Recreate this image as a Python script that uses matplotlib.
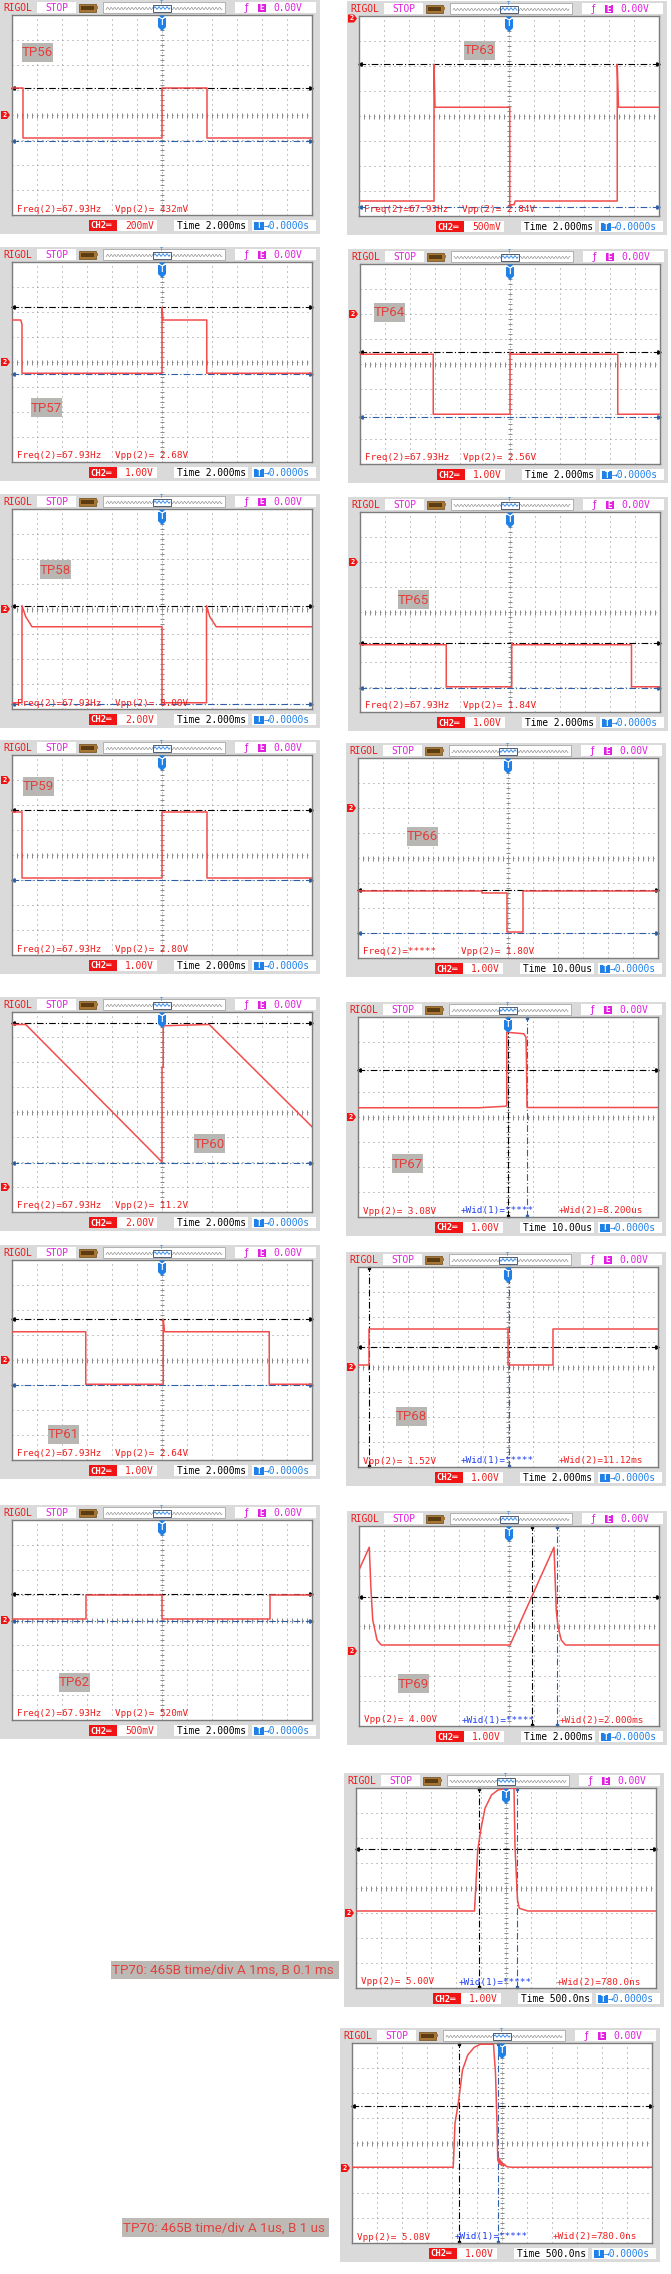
import numpy as np
import matplotlib.pyplot as plt
from matplotlib.patches import Rectangle, Polygon

# ---------------- data: traces in screen divisions (x -6..6, y -4..4) ----------------
tp56_t = [-6, -5.55, -5.55, 0, 0, 1.81, 1.81, 6]
tp56_v = [1.07, 1.07, -0.91, -0.91, 1.07, 1.07, -0.91, -0.91]

tp57_t = [-6, -5.65, -5.6, -5.6, 0, 0, 0.04, 1.79, 1.79, 6]
tp57_v = [1.68, 1.68, 1.5, -0.45, -0.45, 2.19, 1.68, 1.68, -0.45, -0.45]

tp58_t = [-6, -5.6, -5.6, -5.45, -5.2, 0, 0, 1.78, 1.78, 1.91, 2.17, 6]
tp58_v = [-3.75, -3.75, 0.13, -0.31, -0.71, -0.71, -3.75, -3.75, 0.13, -0.31, -0.71, -0.71]

tp59_t = [-6, -5.6, -5.6, 0, 0, 1.78, 1.78, 6]
tp59_v = [1.73, 1.73, -0.93, -0.93, 1.73, 1.73, -0.93, -0.93]

tp60_t = [-6, -5.45, 0, 0, 0.05, 0.05, 1.89, 6]
tp60_v = [3.5, 3.5, -2.0, 1.8, 1.8, 3.45, 3.5, -0.59]

tp61_t = [-6, -3.05, -3.05, 0.05, 0.05, 0.1, 4.29, 4.29, 6]
tp61_v = [1.13, 1.13, -0.97, -0.97, 1.63, 1.13, 1.13, -0.97, -0.97]

tp62_t = [-6, -3.03, -3.03, 0, 0, 4.32, 4.32, 6]
tp62_v = [0.04, 0.04, 0.99, 0.99, 0.04, 0.04, 0.99, 0.99]

tp63_t = [-6, -3.0, -3.0, -2.96, 0.03, 0.03, 0.2, 0.25, 4.33, 4.33, 4.38, 6]
tp63_v = [-3.4, -3.4, 2.07, 0.35, 0.35, -3.55, -3.55, -3.4, -3.4, 2.07, 0.35, 0.35]

tp64_t = [-6, -3.07, -3.07, 0, 0, 0.04, 4.31, 4.31, 6]
tp64_v = [0.39, 0.39, -2.01, -2.01, 0.47, 0.39, 0.39, -2.01, -2.01]

tp65_t = [-6, -2.55, -2.55, 0.07, 0.07, 0.1, 4.86, 4.86, 6]
tp65_v = [-1.31, -1.31, -2.99, -2.99, -1.23, -1.31, -1.31, -2.99, -2.99]

tp66_t = [-6, -1.04, -1.04, -0.06, -0.06, 0.59, 0.59, 6]
tp66_v = [-1.32, -1.32, -1.38, -1.38, -2.97, -2.97, -1.32, -1.32]

tp67_t = [-6, -1.16, -0.1, -0.05, -0.05, 0.63, 0.72, 0.74, 0.76, 6]
tp67_v = [0.37, 0.37, 0.43, 0.45, 3.39, 3.33, 3.19, 2.17, 0.38, 0.38]

tp68_t = [-6, -5.55, -5.55, 0, 0, 1.81, 1.81, 6]
tp68_v = [0.09, 0.09, 1.51, 1.51, 0.09, 0.09, 1.51, 1.51]

tp69_t = [-6, -5.59, -5.52, -5.45, -5.28, -5.11, 0.04, 1.8, 1.89, 1.96, 2.09, 2.26, 6]
tp69_v = [2.24, 3.15, 1.44, 0.24, -0.56, -0.76, -0.76, 3.15, 0.64, -0.03, -0.56, -0.76, -0.76]

tp70a_t = [-6, -1.26, -1.18, -1.13, -1.01, -0.84, -0.58, -0.32, 0.02, 0.32, 0.36, 0.46, 0.53, 0.87, 6]
tp70a_v = [-0.92, -0.92, 0.59, 1.52, 2.32, 3.19, 3.72, 3.92, 3.99, 3.99, 1.65, -0.48, -0.81, -0.92, -0.92]

tp70b_t = [-6, -1.95, -1.88, -1.75, -1.68, -1.58, -1.37, -1.11, -0.86, -0.34, -0.26, -0.2, -0.17,
           -0.12, -0.1, -0.08, -0.05, -0.02, 0.02, 0.06, 0.1, 0.2, 0.4, 6]
tp70b_v = [-0.97, -0.97, 0.79, 1.59, 2.12, 2.92, 3.52, 3.83, 3.95, 3.95, 2.79, 0.79, -0.68,
           -0.8, -0.62, -0.85, -0.72, -0.9, -0.8, -0.93, -0.86, -0.95, -0.97, -0.97]

names = ['TP56', 'TP57', 'TP58', 'TP59', 'TP60', 'TP61', 'TP62',
         'TP63', 'TP64', 'TP65', 'TP66', 'TP67', 'TP68', 'TP69', 'TP70a', 'TP70b']
traces = [(tp56_t, tp56_v), (tp57_t, tp57_v), (tp58_t, tp58_v), (tp59_t, tp59_v),
          (tp60_t, tp60_v), (tp61_t, tp61_v), (tp62_t, tp62_v), (tp63_t, tp63_v),
          (tp64_t, tp64_v), (tp65_t, tp65_v), (tp66_t, tp66_v), (tp67_t, tp67_v),
          (tp68_t, tp68_v), (tp69_t, tp69_v), (tp70a_t, tp70a_v), (tp70b_t, tp70b_v)]
# cursor levels (black horizontal, blue horizontal) and (black vertical, blue vertical)
hcursors = [(1.09, -1.04), (2.19, -0.49), (0.13, -3.8), (1.79, -1.01), (3.55, -2.04),
            (1.63, -1.0), (1.03, -0.03), (2.07, -3.63), (0.47, -2.11), (-1.23, -3.05),
            (-1.27, -3.01), (1.87, None), (0.79, None), (1.17, None), (1.55, None), (1.49, None)]
vcursors = [None] * 11 + [(0, 0.77), (-5.55, 0.02), (0.93, 1.92), (-1.08, 0.44), (-1.73, -0.17)]
ground = [0, 0, 0, 3, -3, 0, 0, 3.9, 2, 2, 2, 0, 0, -1, -1, -1]
volts = ['200mV', '1.00V', '2.00V', '1.00V', '2.00V', '1.00V', '500mV',
         '500mV', '1.00V', '1.00V', '1.00V', '1.00V', '1.00V', '1.00V', '1.00V', '1.00V']
timebase = ['2.000ms'] * 10 + ['10.00us', '10.00us', '2.000ms', '2.000ms', '500.0ns', '500.0ns']
freq = ['67.93Hz'] * 10 + ['*****', None, None, None, None, None]
vpp = [' 432mV', ' 2.68V', ' 8.00V', ' 2.80V', ' 11.2V', ' 2.64V', ' 520mV',
       ' 2.84V', ' 2.56V', ' 1.84V', ' 1.80V', ' 3.08V', ' 1.52V', ' 4.00V', ' 5.00V', ' 5.08V']
wid2 = [None] * 11 + ['8.200us', '11.12ms', '2.000ms', '780.0ns', '780.0ns']
notes = ['TP70: 465B time/div A 1ms, B 0.1 ms', 'TP70: 465B time/div A 1us, B 1 us']

# ---------------- layout (pixels) ----------------
W, H = 671, 2274
PW, PH = 320, 234
GX, GY, GW, GH = 12, 15, 300, 200
origin = [(0, 0), (0, 247), (0, 494), (0, 740), (0, 997), (0, 1245), (0, 1505),
          (347, 1), (348, 249), (348, 497), (346, 743), (346, 1002), (346, 1252), (347, 1511),
          (344, 1773), (340, 2028)]
label_at = [(22, 43), (31, 151), (40, 66), (23, 37), (194, 137), (48, 180), (59, 168),
            (117, 40), (26, 54), (50, 93), (61, 84), (46, 152), (50, 155), (51, 163), None, None]
note_box = [(111, 1961, 228, 18), (122, 2218, 207, 19)]

RED = '#f24c4c'
TRED = '#ee1c1c'
MAG = '#e21fe2'
BLUE = '#1f80e8'
CBLUE = '#2d5fa8'
PANEL = '#dadada'
MONO = 'DejaVu Sans Mono'

fig = plt.figure(figsize=(W / 100, H / 100), dpi=100)
bg = fig.add_axes([0, 0, 1, 1])
bg.set_xlim(0, W)
bg.set_ylim(H, 0)
bg.axis('off')


def box(ax, x, y, w, h, fc, ec='none', lw=0, z=1, tr=None):
    ax.add_patch(Rectangle((x, y), w, h, fc=fc, ec=ec, lw=lw, zorder=z,
                           transform=tr if tr is not None else ax.transData, clip_on=False))


def frame(x0, y0, vdiv, tb):
    box(bg, x0, y0, PW, PH, PANEL)
    # header
    bg.text(x0 + 3, y0 + 8, 'RIGOL', color=TRED, family=MONO, fontsize=6.9, va='center')
    box(bg, x0 + 37, y0 + 2, 39, 11, 'white')
    bg.text(x0 + 45, y0 + 8, 'STOP', color=MAG, family=MONO, fontsize=6.9, va='center')
    box(bg, x0 + 79, y0 + 3.5, 17, 8, '#a87634', ec='#6b4a1c', lw=0.5)
    box(bg, x0 + 81, y0 + 5.5, 13, 4, '#5c3c12')
    box(bg, x0 + 96, y0 + 6, 2, 3, '#a87634')
    box(bg, x0 + 103, y0 + 2, 122, 11, 'white', ec='#9a9a9a', lw=0.5)
    xs = np.linspace(x0 + 106, x0 + 222, 400)
    bg.plot(xs, y0 + 8.5 + 1.1 * np.sin(2 * np.pi * xs / 3.5), color='#8a8a8a', lw=0.45)
    box(bg, x0 + 153, y0 + 4.5, 18, 7, 'white', ec='#33425a', lw=0.6, z=2)
    xw = np.linspace(x0 + 154, x0 + 170, 80)
    bg.plot(xw, y0 + 8 + 1.2 * np.sin(2 * np.pi * xw / 4), color=BLUE, lw=0.6, zorder=3)
    bg.text(x0 + 162, y0 + 2.6, 'T', color=BLUE, family=MONO, fontsize=4, ha='center', va='center', zorder=3)
    box(bg, x0 + 235, y0 + 2, 81, 11, 'white')
    bg.text(x0 + 246, y0 + 8, 'ƒ', color=MAG, family='DejaVu Sans', fontsize=7, ha='center', va='center')
    box(bg, x0 + 258, y0 + 4, 8, 8, MAG)
    bg.text(x0 + 262, y0 + 8, 'E', color='white', family=MONO, fontsize=5.5, ha='center', va='center',
            weight='bold')
    bg.text(x0 + 273, y0 + 8, '0.00V', color=MAG, family=MONO, fontsize=6.9, va='center')
    # footer
    box(bg, x0 + 89, y0 + 220, 28, 11, '#f01414')
    bg.text(x0 + 90.5, y0 + 226, 'CH2═', color='white', family=MONO, fontsize=6.4, va='center',
            weight='bold')
    box(bg, x0 + 117, y0 + 220, 40, 11, 'white')
    bg.text(x0 + 154, y0 + 226, vdiv, color=TRED, family=MONO, fontsize=6.9, va='center', ha='right')
    box(bg, x0 + 174, y0 + 220, 74, 11, 'white')
    bg.text(x0 + 177, y0 + 226, 'Time ' + tb, color='black', family=MONO, fontsize=6.9, va='center')
    box(bg, x0 + 252, y0 + 220, 64, 11, 'white')
    box(bg, x0 + 254, y0 + 221.5, 10, 8.5, BLUE)
    bg.text(x0 + 259, y0 + 226, 'T', color='white', family=MONO, fontsize=5.5, ha='center', va='center',
            weight='bold')
    bg.text(x0 + 264, y0 + 226, '→0.0000s', color=BLUE, family=MONO, fontsize=6.9, va='center')


def screen(i):
    x0, y0 = origin[i]
    ax = fig.add_axes([(x0 + GX) / W, 1 - (y0 + GY + GH) / H, GW / W, GH / H])
    ax.set_xlim(-6, 6)
    ax.set_ylim(-4, 4)
    ax.set_xticks([])
    ax.set_yticks([])
    ax.set_facecolor('white')
    for s in ax.spines.values():
        s.set_color('#7c7c7c')
        s.set_linewidth(1)
    tr = bg.transData
    for k in range(-5, 6):
        if k:
            ax.axvline(k, color='#8c8c8c', lw=0.72, ls=(0, (1, 4)))
    for k in range(-3, 4):
        if k:
            ax.axhline(k, color='#8c8c8c', lw=0.72, ls=(0, (1, 4)))
    ax.axvline(0, color='#8c8c8c', lw=0.72, ls=(0, (1, 2)))
    ticks = np.arange(-6, 6.01, 0.2)
    ax.vlines(ticks, -0.1, 0.1, color='#8c8c8c', lw=0.72)
    ax.axhline(0, color='#8c8c8c', lw=0.72, ls=(0, (1, 4)))
    ax.hlines(np.arange(-4, 4.01, 0.2), -0.08, 0.08, color='#8c8c8c', lw=0.72)

    hb, hl = hcursors[i]
    ax.axhline(hb, color='black', lw=0.8, ls=(0, (6, 2, 1, 2)))
    ax.plot([-5.97], [hb], marker='<', ms=2.5, color='black', clip_on=False)
    ax.plot([5.97], [hb], marker='>', ms=2.5, color='black', clip_on=False)
    if hl is not None:
        ax.axhline(hl, color=CBLUE, lw=0.8, ls=(0, (6, 2, 1, 2)))
        ax.plot([-5.97], [hl], marker='<', ms=2.5, color=CBLUE, clip_on=False)
        ax.plot([5.97], [hl], marker='>', ms=2.5, color=CBLUE, clip_on=False)
    if vcursors[i] is not None:
        vb, vl = vcursors[i]
        ax.axvline(vb, color='black', lw=0.8, ls=(0, (6, 2, 1, 2)))
        ax.plot([vb, vb], [3.96, -3.96], ls='none', marker='s', ms=2, color='black', clip_on=False)
        ax.axvline(vl, color=CBLUE, lw=0.8, ls=(0, (6, 2, 1, 2)))
        ax.plot([vl, vl], [3.96, -3.96], ls='none', marker='s', ms=2, color=CBLUE, clip_on=False)

    t, v = traces[i]
    ax.plot(t, v, color=RED, lw=1.1, zorder=4)

    # trigger pin
    ax.add_patch(Polygon([(x0 + 158, y0 + 18), (x0 + 166, y0 + 18), (x0 + 166, y0 + 27),
                          (x0 + 162, y0 + 31), (x0 + 158, y0 + 27)], closed=True, fc=BLUE, ec='none',
                         transform=tr, clip_on=False, zorder=6))
    ax.add_patch(Polygon([(x0 + 158.5, y0 + 15.5), (x0 + 165.5, y0 + 15.5), (x0 + 162, y0 + 18.5)],
                         closed=True, fc=BLUE, ec='none', transform=tr, clip_on=False, zorder=6))
    ax.text(x0 + 162, y0 + 22.8, 'T', color='white', family=MONO, fontsize=5.5, weight='bold',
            ha='center', va='center', transform=tr, zorder=7)

    # channel ground marker
    yc = y0 + GY + (4 - ground[i]) * GH / 8
    ax.add_patch(Polygon([(x0 + 1, yc - 4), (x0 + 7, yc - 4), (x0 + 10, yc), (x0 + 7, yc + 4), (x0 + 1, yc + 4)],
                         closed=True, fc='#f01414', ec='none', transform=tr, clip_on=False, zorder=6))
    ax.text(x0 + 4.5, yc, '2', color='white', family=MONO, fontsize=5, weight='bold',
            ha='center', va='center', transform=tr, zorder=7)

    # measurements
    ym = y0 + 209
    if freq[i] is not None:
        ax.text(x0 + 17, ym, 'Freq(2)=' + freq[i], color=TRED, family=MONO, fontsize=6.7,
                va='center', transform=tr, zorder=7)
        ax.text(x0 + 115, ym, 'Vpp(2)=' + vpp[i], color=TRED, family=MONO, fontsize=6.7,
                va='center', transform=tr, zorder=7)
    else:
        ax.text(x0 + 17, ym, 'Vpp(2)=' + vpp[i], color=TRED, family=MONO, fontsize=6.7,
                va='center', transform=tr, zorder=7)
        ax.text(x0 + 115, ym, '+Wid(1)=*****', color='#1a3cf0', family=MONO, fontsize=6.7,
                va='center', transform=tr, zorder=7)
        ax.text(x0 + 213, ym, '+Wid(2)=' + wid2[i], color=TRED, family=MONO, fontsize=6.7,
                va='center', transform=tr, zorder=7)

    # test point tag
    if label_at[i] is not None:
        lx, ly = label_at[i]
        box(ax, x0 + lx, y0 + ly, 31, 19, '#b9b7b3', z=8, tr=tr)
        ax.text(x0 + lx + 15.5, y0 + ly + 10, names[i], color='#e2403c', family='Roboto', fontsize=9.5,
                ha='center', va='center', transform=tr, zorder=9)


for i in range(len(names)):
    x0, y0 = origin[i]
    frame(x0, y0, volts[i], timebase[i])
for i in range(len(names)):
    screen(i)

for (bx, by, bw, bh), s in zip(note_box, notes):
    box(bg, bx, by, bw, bh, '#bdbab6')
    bg.text(bx + 1, by + bh / 2 + 0.5, s, color='#e0413d', family='Roboto', fontsize=9.6, va='center')

fig.savefig('out.png', dpi=100)
